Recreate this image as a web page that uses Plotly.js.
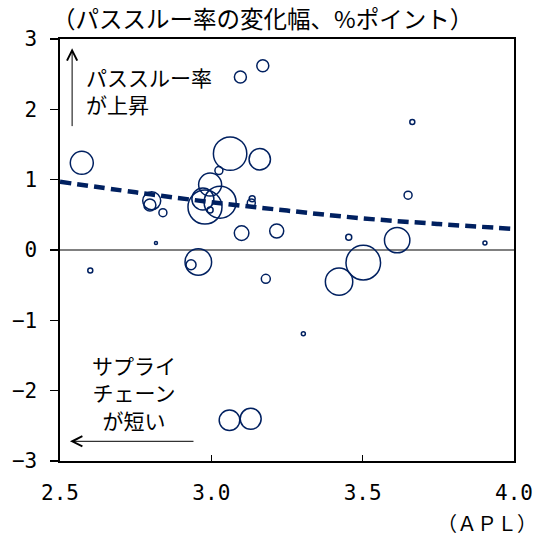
<!DOCTYPE html>
<html>
<head>
<meta charset="utf-8">
<script src="https://cdn.plot.ly/plotly-3.0.1.min.js"></script>
<style>html,body{margin:0;padding:0;background:#fff;}#chart{width:539px;height:536px;}</style>
</head>
<body>
<div id="chart"></div>
<script>
// APL (x) for each bubble
const aplValues = [2.572, 2.803, 2.797, 2.84, 2.817, 2.60, 2.957, 2.933, 3.18, 3.304,
  3.062, 3.16, 3.025, 2.996, 2.979, 3.029, 2.972, 2.996, 3.135, 3.132,
  3.10, 3.216, 3.096, 3.17, 3.664, 3.65, 3.454, 3.614, 3.502, 3.904,
  3.422, 3.06, 3.13];
// change in pass-through rate (%pt)
const passThroughChange = [1.24, 0.70, 0.64, 0.53, 0.10, -0.29, -0.17, -0.21, -0.41, -1.19,
  1.37, 1.29, 1.13, 0.93, 0.61, 0.68, 0.725, 0.57, 0.73, 0.67,
  0.24, 0.27, 2.46, 2.62, 1.82, 0.78, 0.18, 0.14, -0.18, 0.10,
  -0.45, -2.42, -2.40];
// bubble weight (drawn as diameter)
const bubbleWeight = [23, 18, 12, 8, 3, 5, 26.6, 10, 9, 4,
  33.4, 21.4, 8, 23, 34, 32, 22, 6, 6, 8,
  14.6, 14, 12, 12, 5, 8, 6, 25.4, 34.6, 4,
  27.4, 20.6, 21];
// trend line
const trendX = [2.5, 2.75, 3.0, 3.25, 3.5, 3.75, 4.0];
const trendY = [0.97, 0.82, 0.68, 0.56, 0.45, 0.37, 0.30];

const xTickVals = [2.5, 3.0, 3.5, 4.0];
const xTickText = ['2.5', '3.0', '3.5', '4.0'];
const yTickVals = [-3, -2, -1, 0, 1, 2, 3];
const yTickText = ['\u22123', '\u22122', '\u22121', '0', '1', '2', '3'];

const navy = '#002060';
const jp = '"Noto Sans CJK JP", sans-serif';
const num = '"DejaVu Sans Mono", monospace';

const traces = [
  {
    type: 'scatter', mode: 'markers', x: aplValues, y: passThroughChange,
    marker: {size: bubbleWeight, sizemode: 'diameter', sizeref: 1, opacity: 1,
      color: 'rgba(255,255,255,0)', line: {color: navy, width: 1.5}},
    hoverinfo: 'skip'
  },
  {
    type: 'scatter', mode: 'lines', x: trendX, y: trendY,
    line: {color: navy, width: 4.5, dash: '11px,6px', shape: 'spline'},
    hoverinfo: 'skip'
  }
];

const layout = {
  width: 539, height: 536,
  margin: {l: 60, r: 25, t: 39, b: 75},
  paper_bgcolor: '#fff', plot_bgcolor: '#fff',
  showlegend: false,
  font: {family: jp, color: '#000'},
  xaxis: {
    range: [2.5, 4.0], tickvals: xTickVals, ticktext: xTickText,
    ticks: 'inside', ticklen: 6, tickwidth: 1.2, tickcolor: '#000',
    showline: true, linecolor: '#000', linewidth: 1.6, mirror: true,
    showgrid: false, zeroline: false,
    tickfont: {family: num, size: 21, color: '#000'},
    ticklabelstandoff: 12
  },
  yaxis: {
    range: [-3, 3], tickvals: yTickVals, ticktext: yTickText,
    ticks: 'outside', ticklen: 8, tickwidth: 1.2, tickcolor: '#000',
    showline: true, linecolor: '#000', linewidth: 1.6, mirror: true,
    showgrid: false, zeroline: true, zerolinecolor: '#808080', zerolinewidth: 1.5,
    tickfont: {family: num, size: 21, color: '#000'},
    ticklabelstandoff: 9
  },
  annotations: [
    {xref: 'paper', yref: 'paper', x: -0.022, y: 1.05, xanchor: 'left', yanchor: 'middle',
      text: '（パススルー率の変化幅、%ポイント）', showarrow: false,
      font: {family: jp, size: 23.5, color: '#000'}},
    {xref: 'paper', yref: 'paper', x: 1.055, y: -0.145, xanchor: 'right', yanchor: 'middle',
      text: '（ＡＰＬ）', showarrow: false,
      font: {family: jp, size: 20, color: '#000'}},
    {xref: 'x', yref: 'y', x: 2.578, y: 2.27, xanchor: 'left', yanchor: 'middle', align: 'left',
      text: 'パススルー率<br>が上昇', showarrow: false,
      font: {family: jp, size: 21, color: '#000'}},
    {xref: 'x', yref: 'y', x: 2.744, y: -2.02, xanchor: 'center', yanchor: 'middle', align: 'center',
      text: 'サプライ<br>チェーン<br>が短い', showarrow: false,
      font: {family: jp, size: 21, color: '#000'}},
    {xref: 'x', yref: 'y', x: 2.54, y: 2.87, axref: 'x', ayref: 'y', ax: 2.54, ay: 1.74,
      text: '', showarrow: true, arrowhead: 5, arrowsize: 2, arrowwidth: 1, arrowcolor: '#000'},
    {xref: 'x', yref: 'y', x: 2.533, y: -2.72, axref: 'x', ayref: 'y', ax: 2.946, ay: -2.72,
      text: '', showarrow: true, arrowhead: 5, arrowsize: 2, arrowwidth: 1, arrowcolor: '#000'}
  ]
};

Plotly.newPlot('chart', traces, layout, {displayModeBar: false, staticPlot: true});
</script>
</body>
</html>
